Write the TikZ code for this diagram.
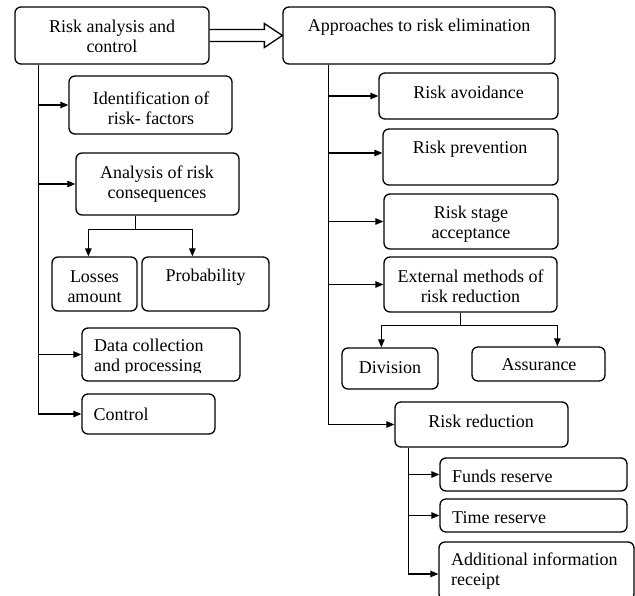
\documentclass[tikz,border=0pt]{standalone}
\usepackage{fontspec}
\setmainfont{Liberation Serif}
\usetikzlibrary{arrows.meta,calc}
\begin{document}
\begin{tikzpicture}[x=1pt,y=-1pt,
  box/.style={draw, rounded corners=6pt, line width=1.3pt, inner sep=0pt},
  txt/.style={inner sep=0pt, font=\fontsize{18}{20}\selectfont, align=center},
  ltxt/.style={txt, anchor=west, align=left},
  ln/.style={line width=1.1pt},
  arr/.style={line width=1.1pt, -{Triangle[length=8pt,width=6.5pt]}}]
\useasboundingbox (0,0) rectangle (635,595);
\clip (0,0) rectangle (635,595);
% boxes
\node[box, minimum width=194pt, minimum height=57pt] (ra) at (112,35.5) {};
\node[box, minimum width=272pt, minimum height=57pt] (ap) at (419,35.5) {};
\node[box, minimum width=163pt, minimum height=58pt] (id) at (150.5,105) {};
\node[box, minimum width=163pt, minimum height=62pt] (an) at (157.5,184) {};
\node[box, minimum width=85pt, minimum height=54pt] (lo) at (94.5,284) {};
\node[box, minimum width=127pt, minimum height=54pt] (pr) at (205.5,284) {};
\node[box, minimum width=158pt, minimum height=53pt] (dc) at (161,354.5) {};
\node[box, minimum width=133pt, minimum height=40pt] (co) at (148.5,414) {};
\node[box, minimum width=179pt, minimum height=46pt] (av) at (468.5,96) {};
\node[box, minimum width=175pt, minimum height=56pt] (pv) at (470.5,157) {};
\node[box, minimum width=174pt, minimum height=55pt] (st) at (471,221.5) {};
\node[box, minimum width=173pt, minimum height=55pt] (ex) at (470.5,284.5) {};
\node[box, minimum width=96pt, minimum height=41pt] (dv) at (390,368.5) {};
\node[box, minimum width=133pt, minimum height=34pt] (as) at (538.5,364) {};
\node[box, minimum width=173pt, minimum height=45pt] (rr) at (481.5,424.5) {};
\node[box, minimum width=187pt, minimum height=33pt] (fu) at (533.5,474.5) {};
\node[box, minimum width=187pt, minimum height=33pt] (ti) at (533.5,515.5) {};
\node[box, minimum width=195pt, minimum height=58pt] (ad) at (536.5,571) {};
% texts
\node[txt] (t-ra) at (112,36) {Risk analysis and\\control};
\node[txt] (t-ap) at (419,27) {Approaches to risk elimination};
\node[txt] (t-id) at (151,108) {Identification of\\risk- factors};
\node[txt] (t-an) at (157,184) {Analysis of risk\\consequences};
\node[txt] (t-lo) at (94.5,287) {Losses\\amount};
\node[txt] (t-pr) at (205.5,277) {Probability};
\begin{scope}
\clip (dc.north west) rectangle ($(dc.south east)+(0,-9.5)$);
\node[ltxt] (t-dc) at (94,357) {Data collection\\and processing};
\end{scope}
\node[ltxt] (t-co) at (93.5,414) {Control};
\node[txt] (t-av) at (468.5,92) {Risk avoidance};
\node[txt] (t-pv) at (470,149) {Risk prevention};
\node[txt] (t-st) at (471,224) {Risk stage\\acceptance};
\node[txt] (t-ex) at (470.5,286) {External methods of\\risk reduction};
\node[txt] (t-dv) at (390,368) {Division};
\node[txt] (t-as) at (539,365) {Assurance};
\node[txt] (t-rr) at (481,421) {Risk reduction};
\node[ltxt] (t-fu) at (452,476) {Funds reserve};
\node[ltxt] (t-ti) at (452,518) {Time reserve};
\node[ltxt] (t-ad) at (451,571) {Additional information\\receipt};
% hollow double arrow
\draw[line width=1.3pt, line join=miter]
  ($(ra.east)+(0,-6)$) -- ($(ap.west)+(-18,-6)$) -- ($(ap.west)+(-18,-12)$)
  -- (ap.west) -- ($(ap.west)+(-18,12)$) -- ($(ap.west)+(-18,6)$) -- ($(ra.east)+(0,6)$);
% left trunk
\coordinate (lt) at ($(ra.south west)+(24,0)$);
\draw[arr] (lt) |- (co.west);
\draw[arr] (lt |- id.west) -- (id.west);
\draw[arr] (lt |- an.west) -- (an.west);
\draw[arr] (lt |- dc.west) -- (dc.west);
% analysis split
\coordinate (ans) at ($(an.south west)+(60,0)$);
\coordinate (anj) at ($(ans)+(0,14)$);
\draw[ln] (ans) -- (anj);
\draw[arr] (anj) -| ($(lo.north west)+(37,0)$);
\draw[arr] (anj) -| ($(pr.north west)+(51,0)$);
% right trunk
\coordinate (rt) at ($(ap.south west)+(46,0)$);
\draw[arr] (rt) |- (rr.west);
\draw[arr] (rt |- av.west) -- (av.west);
\coordinate (pva) at ($(pv.west)+(0,-4)$);
\draw[arr] (rt |- pva) -- (pva);
\draw[arr] (rt |- st.west) -- (st.west);
\draw[arr] (rt |- ex.west) -- (ex.west);
% external split
\coordinate (exs) at ($(ex.south west)+(77,0)$);
\coordinate (exj) at ($(exs)+(0,13)$);
\draw[ln] (exs) -- (exj);
\draw[arr] (exj) -| ($(dv.north west)+(40,0)$);
\draw[arr] (exj) -| ($(as.north west)+(86,0)$);
% risk reduction trunk
\coordinate (rrt) at ($(rr.south west)+(14,0)$);
\coordinate (ada) at ($(ad.west)+(0,3)$);
\draw[arr] (rrt) |- (ada);
\draw[arr] (rrt |- fu.west) -- (fu.west);
\draw[arr] (rrt |- ti.west) -- (ti.west);
\end{tikzpicture}
\end{document}
